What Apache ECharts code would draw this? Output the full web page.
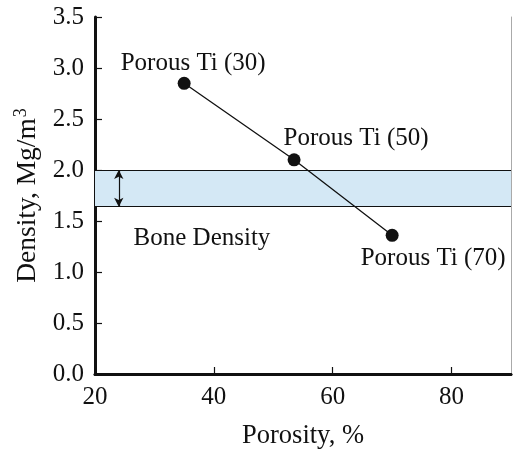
<!DOCTYPE html>
<html>
<head>
<meta charset="utf-8">
<script src="https://cdn.jsdelivr.net/npm/echarts@6/dist/echarts.min.js"></script>
<style>
  html, body { margin: 0; padding: 0; background: #fff; }
  #chart { width: 513px; height: 452px; }
</style>
</head>
<body>
<div id="chart"></div>
<script>
// Porous titanium samples: porosity (%) vs density (Mg/m^3)
const sampleNames = ['Porous Ti (30)', 'Porous Ti (50)', 'Porous Ti (70)'];
const porosity = [35, 53.5, 70];
const density = [2.85, 2.1, 1.36];

// Range of natural bone density
const boneDensityRange = [1.64, 2.0];
const boneArrowX = 24;
const boneLabel = 'Bone Density';
const boneLabelPos = [38, 1.33];

const xTicks = [20, 40, 60, 80];

const FONT = 'Liberation Serif';
const INK = '#111';
const chart = echarts.init(document.getElementById('chart'), null, { renderer: 'canvas' });

const labelOffsets = [[9, -20], [62, -21], [41, 23]];

const points = porosity.map((x, i) => ({
  value: [x, density[i]],
  name: sampleNames[i],
  label: {
    show: true,
    formatter: '{b}',
    position: 'inside',
    offset: labelOffsets[i],
    fontFamily: FONT,
    fontSize: 25,
    color: INK
  }
}));

chart.setOption({
  animation: false,
  textStyle: { fontFamily: FONT },
  grid: { left: 95, top: 17, right: 2, bottom: 78, containLabel: false, outerBoundsMode: 'none' },
  xAxis: [{
    type: 'value',
    min: 20, max: 90, interval: 20,
    name: 'Porosity, %',
    nameLocation: 'middle',
    nameGap: 49,
    nameTextStyle: { fontFamily: FONT, fontSize: 26.5, color: INK },
    axisLine: { show: true, lineStyle: { color: INK, width: 3 } },
    axisTick: { show: true, inside: true, length: 7, lineStyle: { color: INK, width: 1.2 },
      customValues: xTicks },
    axisLabel: { fontFamily: FONT, fontSize: 25, color: INK, margin: 11,
      customValues: xTicks },
    splitLine: { show: false }
  }, {
    type: 'value', position: 'top',
    min: 20, max: 90,
    axisLine: { show: true, lineStyle: { color: INK, width: 2.5 } },
    axisTick: { show: false }, axisLabel: { show: false }, splitLine: { show: false }
  }],
  yAxis: [{
    type: 'value',
    min: 0, max: 3.5, interval: 0.5,
    name: 'Density, {n|Mg/m}{s|3}',
    nameLocation: 'middle',
    nameGap: 51,
    nameRotate: 90,
    nameTextStyle: {
      fontFamily: FONT, fontSize: 27.5, color: INK,
      rich: {
        n: { fontFamily: FONT, fontSize: 27.5, color: INK },
        s: { fontFamily: FONT, fontSize: 18, color: INK, verticalAlign: 'top', padding: [0, 0, 14, 1] }
      }
    },
    axisLine: { show: true, lineStyle: { color: INK, width: 3 } },
    axisTick: { show: true, inside: true, length: 7, lineStyle: { color: INK, width: 1.2 } },
    axisLabel: { fontFamily: FONT, fontSize: 25, color: INK, margin: 11,
      formatter: v => v.toFixed(1) },
    splitLine: { show: false }
  }, {
    type: 'value', position: 'right',
    min: 0, max: 3.5,
    axisLine: { show: true, lineStyle: { color: '#aaa', width: 1 } },
    axisTick: { show: false }, axisLabel: { show: false }, splitLine: { show: false }
  }],
  series: [
    {
      // bone density band with its edge lines and range arrow
      type: 'line',
      data: [],
      silent: true,
      markArea: {
        silent: true,
        itemStyle: { color: '#d4e8f5', borderWidth: 0 },
        data: [[{ yAxis: boneDensityRange[0] }, { yAxis: boneDensityRange[1] }]]
      },
      markLine: {
        silent: true,
        label: { show: false },
        data: [
          [{ coord: [20, boneDensityRange[0]], symbol: 'none' }, { coord: [90, boneDensityRange[0]], symbol: 'none' }],
          [{ coord: [20, boneDensityRange[1]], symbol: 'none' }, { coord: [90, boneDensityRange[1]], symbol: 'none' }],
          [{ coord: [boneArrowX, boneDensityRange[1]], symbol: 'arrow', symbolSize: [7, 9] },
           { coord: [boneArrowX, boneDensityRange[0]], symbol: 'arrow', symbolSize: [7, 9] }]
        ],
        lineStyle: { color: INK, width: 1.2, type: 'solid' }
      },
      z: 1
    },
    {
      type: 'line',
      data: points,
      symbol: 'circle',
      symbolSize: 13,
      itemStyle: { color: INK },
      lineStyle: { color: INK, width: 1.3 },
      z: 3
    },
    {
      type: 'scatter',
      data: [{ value: boneLabelPos, name: boneLabel }],
      symbolSize: 0,
      silent: true,
      itemStyle: { opacity: 1 },
      label: { show: true, formatter: '{b}', position: 'inside', opacity: 1,
        fontFamily: FONT, fontSize: 25, color: INK },
      z: 4
    }
  ]
});
</script>
</body>
</html>
